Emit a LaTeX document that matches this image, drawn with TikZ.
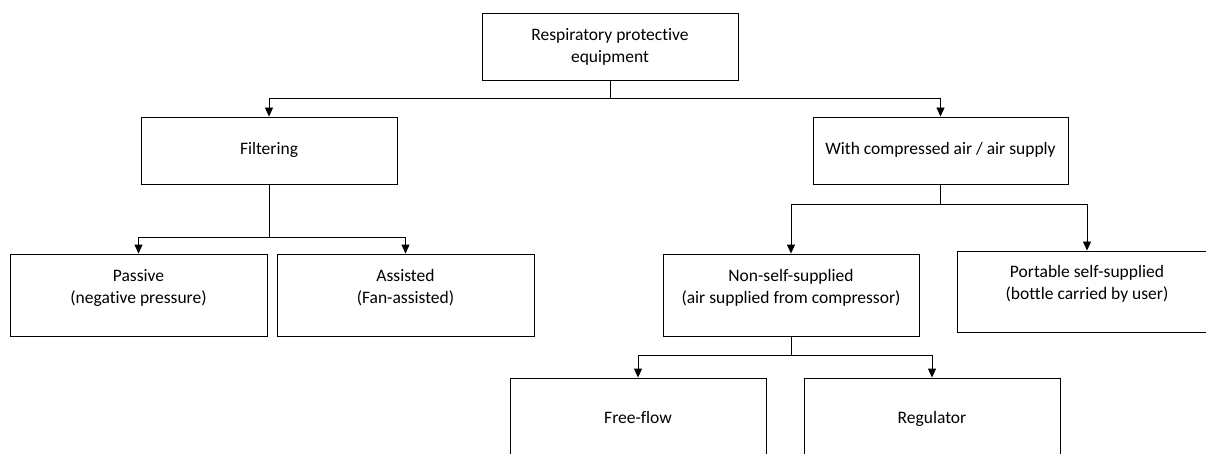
\documentclass[tikz,border=0pt]{standalone}
\usepackage{fontspec}
\setmainfont{Carlito}[Ligatures=NoCommon]
\usetikzlibrary{arrows.meta}
\begin{document}
\begin{tikzpicture}[x=1pt,y=-1pt,
  box/.style={draw=black,line width=0.9pt,fill=white,inner sep=0pt,align=center,
    font=\fontsize{17.5}{22}\selectfont},
  arr/.style={draw=black,line width=0.9pt,-{Triangle[length=9pt,width=8pt]}}]
\useasboundingbox (0,0) rectangle (1206,454);
\clip (0,0) rectangle (1206,454);
\fill[white] (0,0) rectangle (1206,454);
\node[box,minimum width=256pt,minimum height=67pt] (top) at (610,46.5) {Respiratory protective\\equipment};
\node[box,minimum width=256pt,minimum height=67pt] (filt) at (269,150.5) {\strut Filtering};
\node[box,minimum width=255pt,minimum height=67pt] (comp) at (940.5,150.5) {\strut With compressed air / air supply};
\node[box,minimum width=257pt,minimum height=82pt] (pass) at (138.5,295) {Passive\\(negative pressure)\\[-4pt]~};
\node[box,minimum width=257pt,minimum height=82pt] (assi) at (405.5,295) {Assisted\\(Fan-assisted)\\[-4pt]~};
\node[box,minimum width=256pt,minimum height=82pt] (nons) at (791,295) {Non-self-supplied\\(air supplied from compressor)\\[-4pt]~};
\node[box,minimum width=260pt,minimum height=81pt] (port) at (1087,291.5) {Portable self-supplied\\(bottle carried by user)\\[-4pt]~};
\node[box,minimum width=256pt,minimum height=82pt] (free) at (638,419) {\strut Free-flow};
\node[box,minimum width=256pt,minimum height=82pt] (regu) at (932,419) {\strut Regulator};
\draw[arr] (top.south) -- ++(0,18.5) -| (filt.north);
\draw[arr] (top.south) -- ++(0,18.5) -| (comp.north);
\draw[arr] (filt.south) -- ++(0,53) -| (pass.north);
\draw[arr] (filt.south) -- ++(0,53) -| (assi.north);
\draw[arr] (comp.south) -- ++(0,20) -| (nons.north);
\draw[arr] (comp.south) -- ++(0,20) -| (port.north);
\draw[arr] (nons.south) -- ++(0,19) -| (free.north);
\draw[arr] (nons.south) -- ++(0,19) -| (regu.north);
\end{tikzpicture}
\end{document}
